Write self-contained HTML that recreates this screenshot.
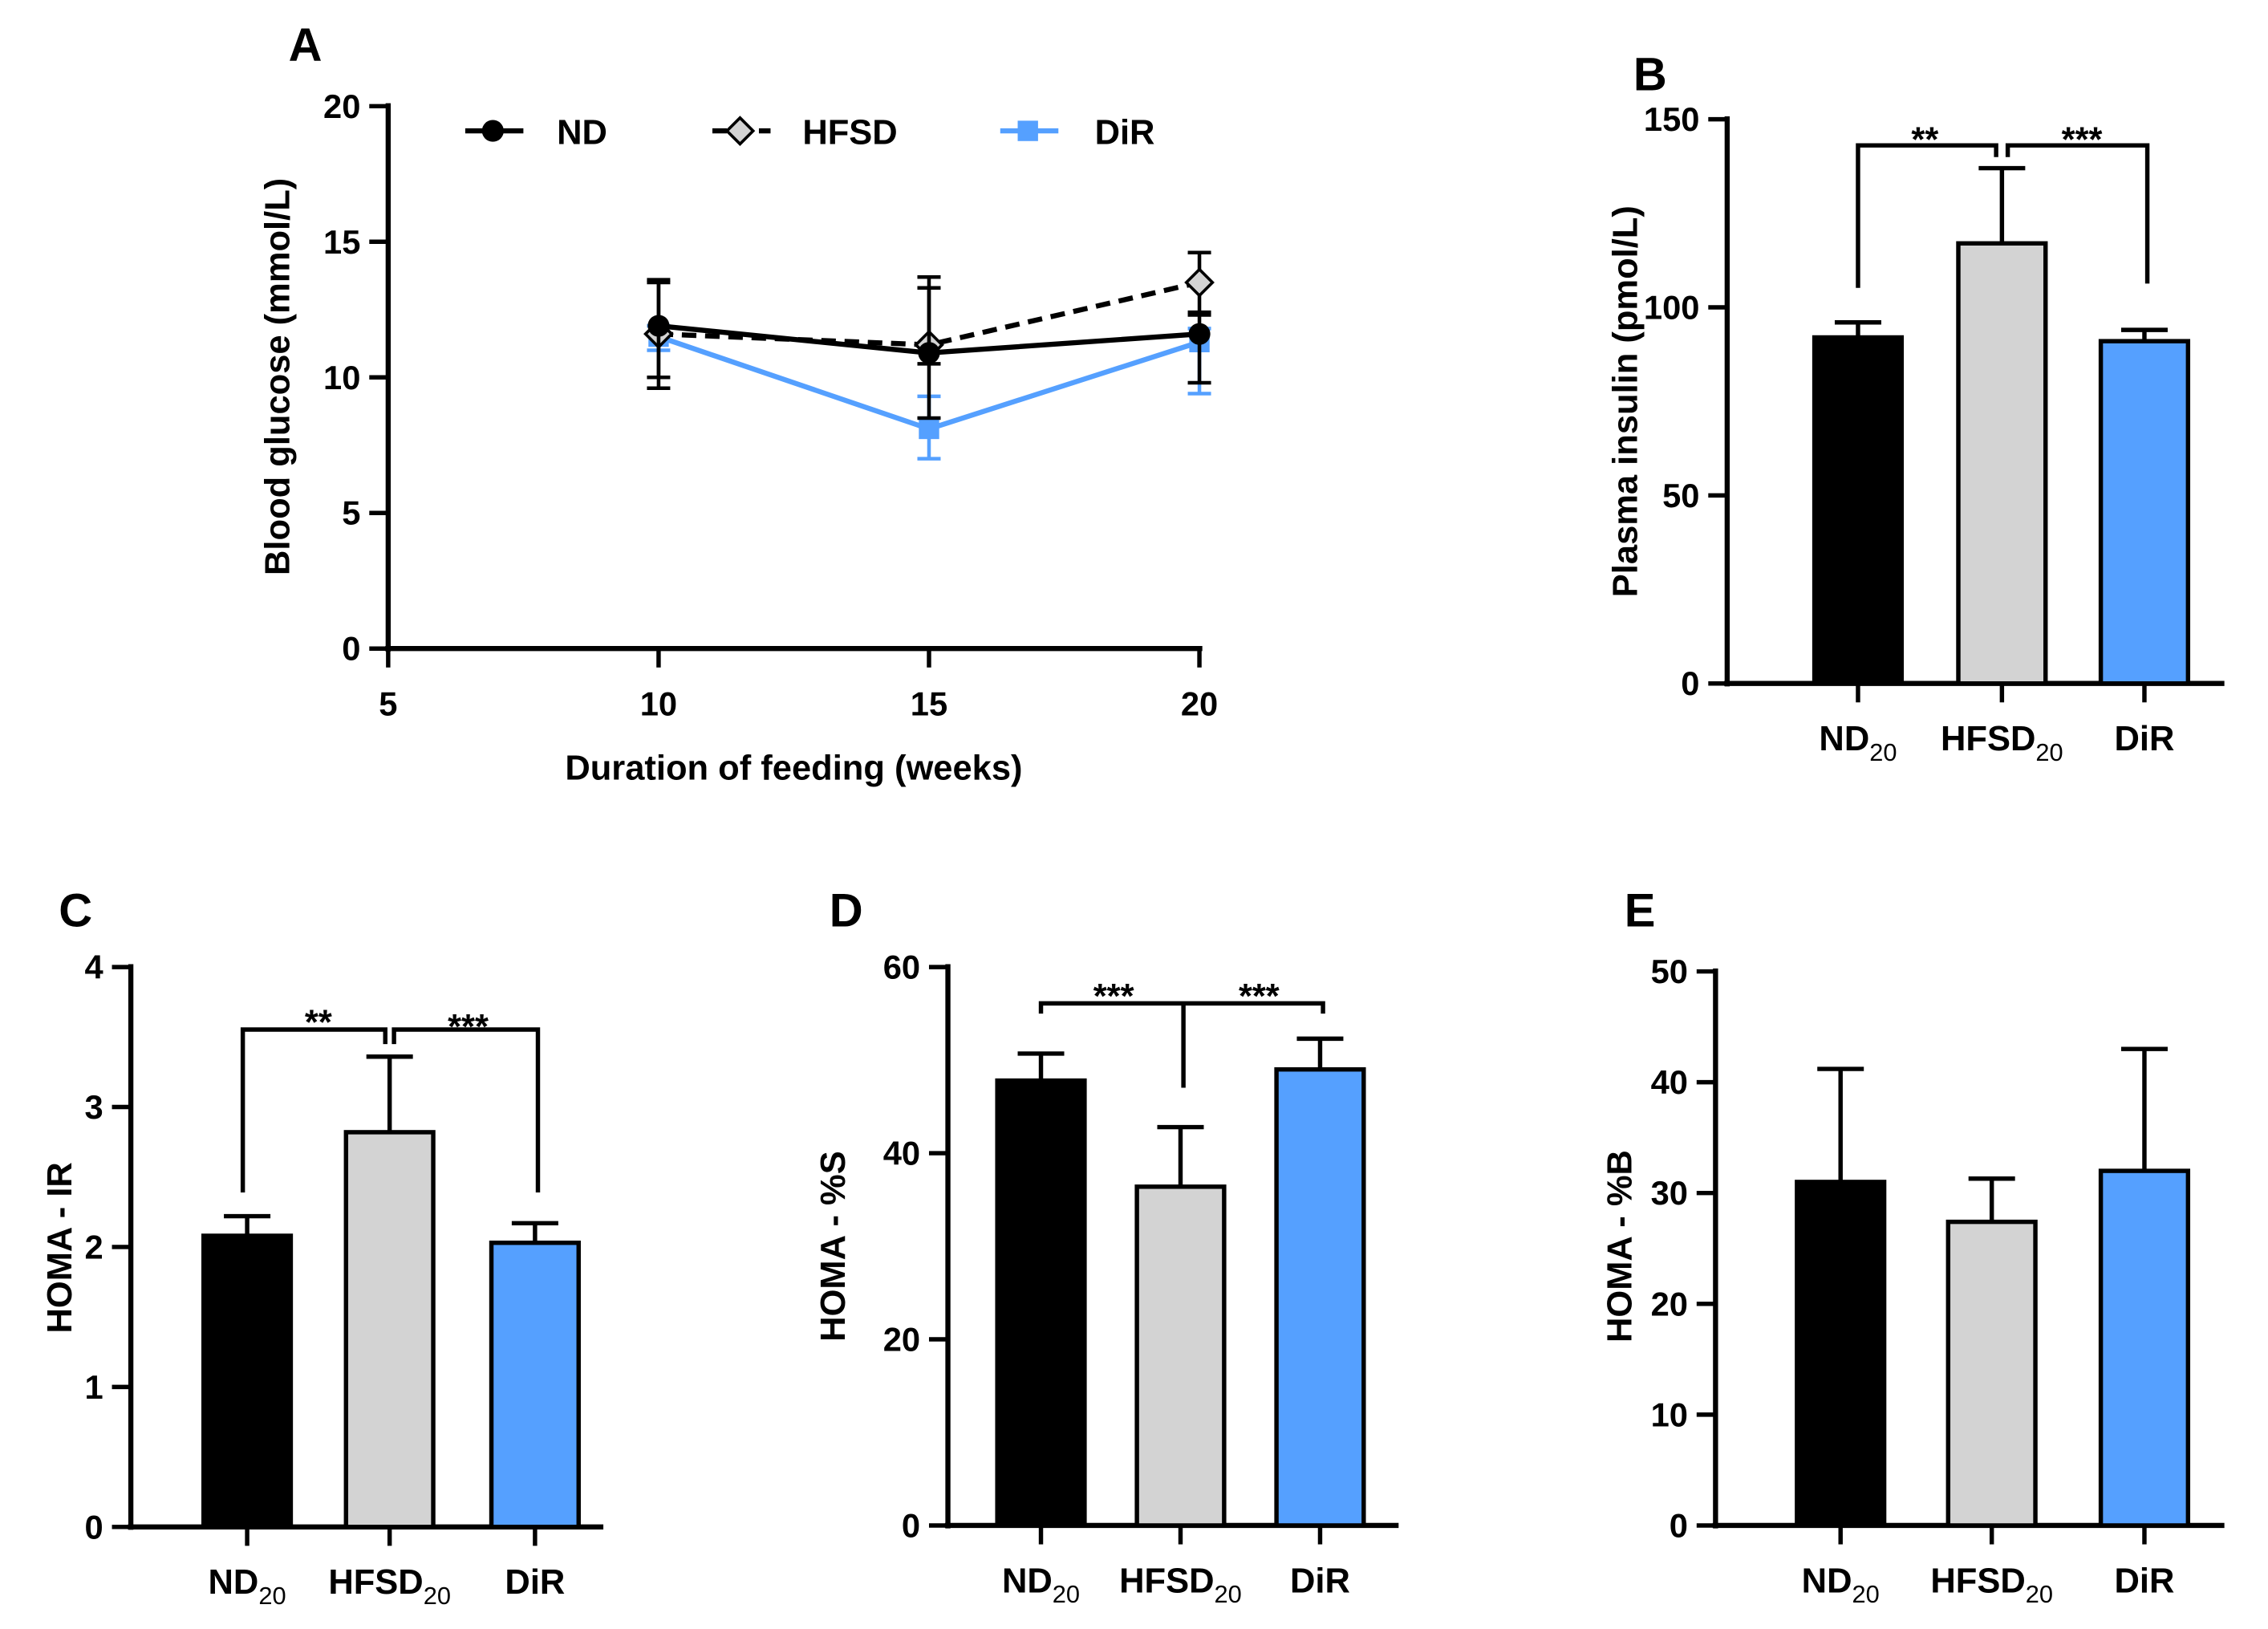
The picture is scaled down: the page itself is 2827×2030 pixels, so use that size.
<!DOCTYPE html>
<html><head><meta charset="utf-8"><style>
html,body{margin:0;padding:0;background:#fff}
svg{display:block}
text{font-family:"Liberation Sans",Arial,sans-serif;font-weight:bold;fill:#000}
</style></head><body>
<svg id="fig" width="2827" height="2030" viewBox="0 0 1560 1120.2" xmlns="http://www.w3.org/2000/svg"></svg>
<script>
// ---- Panel A data ----
const weeks = [10, 15, 20];
const ndGlucose = [11.9, 10.9, 11.6];
const ndErrLo = [9.6, 8.5, 9.8];
const ndErrHi = [13.6, 13.7, 12.3];
const hfsdGlucose = [11.6, 11.2, 13.5];
const hfsdErrLo = [10.0, 10.5, 12.4];
const hfsdErrHi = [13.5, 13.3, 14.6];
const dirGlucose = [11.5, 8.1, 11.3];
const dirErrLo = [11.0, 7.0, 9.4];
const dirErrHi = [11.9, 9.3, 11.8];
const aYTicks = [0, 5, 10, 15, 20];
const aXTicks = [5, 10, 15, 20];
// ---- Bar panels data ----
const groups = ["ND", "HFSD", "DiR"];
const insulin = [92, 117, 91];
const insulinErr = [96, 137, 94];
const insulinTicks = [0, 50, 100, 150];
const homaIR = [2.08, 2.82, 2.03];
const homaIRErr = [2.22, 3.36, 2.17];
const homaIRTicks = [0, 1, 2, 3, 4];
const homaS = [47.8, 36.4, 49.0];
const homaSErr = [50.7, 42.8, 52.3];
const homaSTicks = [0, 20, 40, 60];
const homaB = [31.0, 27.4, 32.0];
const homaBErr = [41.2, 31.3, 43.0];
const homaBTicks = [0, 10, 20, 30, 40, 50];

const svg = document.getElementById('fig');
const NS = 'http://www.w3.org/2000/svg';
function el(tag, attrs, parent) {
  const e = document.createElementNS(NS, tag);
  for (const k in attrs) e.setAttribute(k, attrs[k]);
  (parent || svg).appendChild(e);
  return e;
}
function txt(x, y, s, size, anchor, parent, rot) {
  const t = el('text', {x: x, y: y, 'font-size': size, 'text-anchor': anchor || 'middle'}, parent);
  if (rot) t.setAttribute('transform', 'rotate(-90 ' + x + ' ' + y + ')');
  t.textContent = s;
  return t;
}
const colors = ['#000000', '#d3d3d3', '#55a0ff'];

// ---------- Panel A ----------
const gA = el('g', {});


const ax = v => 267 + (v - 5) / 15 * (825 - 267);
const ay = v => 446 - v / 20 * (446 - 73);
txt(210, 42, 'A', 32, 'middle', gA);
el('line', {x1: 267, y1: 71, x2: 267, y2: 448, stroke: '#000', 'stroke-width': 3.5}, gA);
el('line', {x1: 265, y1: 446, x2: 827, y2: 446, stroke: '#000', 'stroke-width': 3.5}, gA);
aYTicks.forEach(v => {
  el('line', {x1: 254, y1: ay(v), x2: 267, y2: ay(v), stroke: '#000', 'stroke-width': 3}, gA);
  const t = txt(248, ay(v) + 8, String(v), 23, 'end', gA);
  
  
});
aXTicks.forEach(v => {
  el('line', {x1: ax(v), y1: 446, x2: ax(v), y2: 459, stroke: '#000', 'stroke-width': 3}, gA);
  const t = txt(ax(v), 492, String(v), 23, 'middle', gA);
  
  
});
const xl = txt(546, 536, 'Duration of feeding (weeks)', 24, 'middle', gA);


const yl = txt(199, 259, 'Blood glucose (mmol/L)', 24, 'middle', gA, true);



function series(vals, lo, hi, color, dash, marker, name) {
  const g = el('g', {}, gA);
  
  
  weeks.forEach((w, i) => {
    const x = ax(w);
    el('line', {x1: x, y1: ay(lo[i]), x2: x, y2: ay(hi[i]), stroke: color, 'stroke-width': 2.5}, g);
    el('line', {x1: x - 8, y1: ay(lo[i]), x2: x + 8, y2: ay(lo[i]), stroke: color, 'stroke-width': 2.5}, g);
    el('line', {x1: x - 8, y1: ay(hi[i]), x2: x + 8, y2: ay(hi[i]), stroke: color, 'stroke-width': 2.5}, g);
  });
  const pts = weeks.map((w, i) => ax(w) + ',' + ay(vals[i])).join(' ');
  const pl = el('polyline', {points: pts, fill: 'none', stroke: color, 'stroke-width': 3.5}, g);
  if (dash) pl.setAttribute('stroke-dasharray', '10,6');
  weeks.forEach((w, i) => marker(ax(w), ay(vals[i]), g));
}
const mCircle = (x, y, g) => el('circle', {cx: x, cy: y, r: 7.5, fill: '#000'}, g);
const mDiamond = (x, y, g) => el('polygon', {points: `${x},${y-9} ${x+9},${y} ${x},${y+9} ${x-9},${y}`, fill: '#d3d3d3', stroke: '#000', 'stroke-width': 2}, g);
const mSquare = (x, y, g) => el('rect', {x: x - 7, y: y - 7, width: 14, height: 14, fill: '#55a0ff'}, g);
series(dirGlucose, dirErrLo, dirErrHi, '#55a0ff', false, mSquare, 'series-dir');
series(hfsdGlucose, hfsdErrLo, hfsdErrHi, '#000', true, mDiamond, 'series-hfsd');
series(ndGlucose, ndErrLo, ndErrHi, '#000', false, mCircle, 'series-nd');

function legend(x0, label, color, dash, marker, tx, name) {
  const g = el('g', {}, gA);
  
  
  const l = el('line', {x1: x0, y1: 90, x2: x0 + 40, y2: 90, stroke: color, 'stroke-width': 3.5}, g);
  if (dash) l.setAttribute('stroke-dasharray', '10,6');
  marker(x0 + 19, 90, g);
  txt(tx, 99, label, 24, 'start', g);
}
legend(320, 'ND', '#000', false, mCircle, 383, 'legend-nd');
legend(490, 'HFSD', '#000', true, mDiamond, 552, 'legend-hfsd');
legend(688, 'DiR', '#55a0ff', false, mSquare, 753, 'legend-dir');

// ---------- Bar panels ----------
function barPanel(o) {
  const g = el('g', {});
  
  
  const y = v => o.y0 - v / o.max * (o.y0 - o.yTop);
  txt(o.lx, o.ly, o.letter, 32, 'middle', g);
  el('line', {x1: o.x0, y1: o.yTop - 2, x2: o.x0, y2: o.y0 + 2, stroke: '#000', 'stroke-width': 3.5}, g);
  el('line', {x1: o.x0 - 2, y1: o.y0, x2: o.xEnd, y2: o.y0, stroke: '#000', 'stroke-width': 3.5}, g);
  o.ticks.forEach(v => {
    el('line', {x1: o.x0 - 13, y1: y(v), x2: o.x0, y2: y(v), stroke: '#000', 'stroke-width': 3}, g);
    const t = txt(o.x0 - 19, y(v) + 8, String(v), 23, 'end', g);
    
    
  });
  const yt = txt(o.ylx, o.yly, o.ylabel, 24, 'middle', g, true);
  
  
  groups.forEach((gr, i) => {
    const cx = o.cx[i];
    const b = el('rect', {x: cx - 30, y: y(o.vals[i]), width: 60, height: o.y0 - y(o.vals[i]), fill: colors[i], stroke: '#000', 'stroke-width': 3}, g);
    
    
    el('line', {x1: cx, y1: y(o.vals[i]), x2: cx, y2: y(o.err[i]), stroke: '#000', 'stroke-width': 3}, g);
    el('line', {x1: cx - 16, y1: y(o.err[i]), x2: cx + 16, y2: y(o.err[i]), stroke: '#000', 'stroke-width': 3}, g);
    el('line', {x1: cx, y1: o.y0, x2: cx, y2: o.y0 + 13, stroke: '#000', 'stroke-width': 3}, g);
    const t = el('text', {x: cx, y: o.y0 + 46, 'font-size': 24, 'text-anchor': 'middle'}, g);
    
    
    if (gr === 'DiR') { t.textContent = 'DiR'; }
    else {
      t.textContent = gr;
      const s = el('tspan', {'font-size': 17, 'font-weight': 'normal', dy: 7}, t);
      s.textContent = '20';
    }
  });
  if (o.extra) o.extra(g, y);
}
function path(g, d) { el('path', {d: d, fill: 'none', stroke: '#000', 'stroke-width': 3}, g); }

barPanel({name: 'panel-b', letter: 'B', lx: 1135, ly: 62, x0: 1188, y0: 470, yTop: 82, max: 150, xEnd: 1530,
  ticks: insulinTicks, vals: insulin, err: insulinErr, cx: [1278, 1377, 1475],
  ylabel: 'Plasma insulin (pmol/L)', ylx: 1126, yly: 276,
  extra: (g) => {
    path(g, 'M1278 198 V100 H1373 V108');
    path(g, 'M1477 195 V100 H1381 V108');
    txt(1324, 104, '**', 24, 'middle', g);
    txt(1432, 104, '***', 24, 'middle', g);
  }});
barPanel({name: 'panel-c', letter: 'C', lx: 52, ly: 637, x0: 90, y0: 1050, yTop: 665, max: 4, xEnd: 415,
  ticks: homaIRTicks, vals: homaIR, err: homaIRErr, cx: [170, 268, 368],
  ylabel: 'HOMA - IR', ylx: 49, yly: 858,
  extra: (g) => {
    path(g, 'M167 820 V708 H265 V718');
    path(g, 'M370 820 V708 H271 V718');
    txt(219, 711, '**', 24, 'middle', g);
    txt(322, 714, '***', 24, 'middle', g);
  }});
barPanel({name: 'panel-d', letter: 'D', lx: 582, ly: 637, x0: 652, y0: 1049, yTop: 665, max: 60, xEnd: 962,
  ticks: homaSTicks, vals: homaS, err: homaSErr, cx: [716, 812, 908],
  ylabel: 'HOMA - %S', ylx: 581, yly: 857,
  extra: (g) => {
    path(g, 'M716 697 V690 H910 V697');
    path(g, 'M814 690 V748');
    txt(766, 693, '***', 24, 'middle', g);
    txt(866, 693, '***', 24, 'middle', g);
  }});
barPanel({name: 'panel-e', letter: 'E', lx: 1128, ly: 637, x0: 1180, y0: 1049, yTop: 668, max: 50, xEnd: 1530,
  ticks: homaBTicks, vals: homaB, err: homaBErr, cx: [1266, 1370, 1475],
  ylabel: 'HOMA - %B', ylx: 1122, yly: 857});
</script>
</body></html>
